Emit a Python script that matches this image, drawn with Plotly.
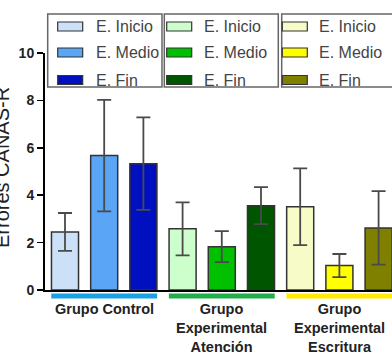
import plotly.graph_objects as go

# ---------------- data ----------------
groups = ["Grupo Control", "Grupo<br>Experimental<br>Atención", "Grupo<br>Experimental<br>Escritura"]
stages = ["E. Inicio", "E. Medio", "E. Fin"]

means_control = [2.45, 5.67, 5.33]
err_control = [0.80, 2.35, 1.95]
means_atencion = [2.58, 1.83, 3.56]
err_atencion = [1.12, 0.65, 0.78]
means_escritura = [3.51, 1.03, 2.62]
err_escritura = [1.62, 0.49, 1.55]

colors_control = ["#cce0f8", "#5aa5f5", "#0010c0"]
colors_atencion = ["#ccffcc", "#00c000", "#005500"]
colors_escritura = ["#f7fbc8", "#ffff00", "#808000"]
underline_colors = ["#1aa0e4", "#20ad4a", "#ffea00"]

y_ticks = [0, 2, 4, 6, 8, 10]
y_title = "Errores CANAS-R"

all_means = [means_control, means_atencion, means_escritura]
all_errs = [err_control, err_atencion, err_escritura]
all_colors = [colors_control, colors_atencion, colors_escritura]

# ---------------- geometry helpers ----------------
W, H = 392, 354
ML, MR, MT, MB = 45, 0, 53, 64
PW, PH = W - ML - MR, H - MT - MB


def xp(px):
    return (px - ML) / PW


def yp(py):
    return (H - MB - py) / PH


fig = go.Figure()

for g in range(3):
    xs = [3 * g + i for i in range(3)]
    fig.add_trace(go.Bar(
        x=xs, y=all_means[g],
        width=0.69,
        marker=dict(color=all_colors[g], line=dict(color="#333333", width=1.5)),
        error_y=dict(type="data", array=all_errs[g], visible=True,
                     color="#4a4a4a", thickness=1.8, width=7),
        showlegend=False,
        hoverinfo="skip",
    ))

shapes = []
annotations = []

# group underlines and labels
for g in range(3):
    shapes.append(dict(type="line", xref="x", yref="paper",
                       x0=3 * g - 0.35, x1=3 * g + 2.35,
                       y0=yp(296), y1=yp(296),
                       line=dict(color=underline_colors[g], width=5)))
    annotations.append(dict(text=groups[g], xref="x", yref="paper",
                            x=3 * g + 1, y=yp(299), xanchor="center", yanchor="top",
                            showarrow=False, align="center",
                            font=dict(family="Liberation Sans, Arial", size=14.5,
                                      color="#222222", weight="bold")))

# legends (three boxes)
box_left = [47.7, 164.3, 281.7]
box_right = [162.0, 278.3, 396.0]
sw_left = [57.7, 166.7, 282.3]
txt_left = [94.0, 202.0, 317.0]
row_y = [26.5, 52.5, 80.0]
for g in range(3):
    shapes.append(dict(type="rect", xref="paper", yref="paper",
                       x0=xp(box_left[g]), x1=xp(box_right[g]),
                       y0=yp(87), y1=yp(14),
                       line=dict(color="#666666", width=1.5),
                       fillcolor="rgba(255,255,255,0)"))
    for i in range(3):
        shapes.append(dict(type="rect", xref="paper", yref="paper",
                           x0=xp(sw_left[g]), x1=xp(sw_left[g] + 25),
                           y0=yp(row_y[i] + 4.5), y1=yp(row_y[i] - 4.5),
                           line=dict(color="#333333", width=1.2),
                           fillcolor=all_colors[g][i]))
        annotations.append(dict(text=stages[i], xref="paper", yref="paper",
                                x=xp(txt_left[g]), y=yp(row_y[i]),
                                xanchor="left", yanchor="middle", showarrow=False,
                                font=dict(family="Liberation Sans, Arial", size=16,
                                          color="#444444")))

# y-axis title (partially cut off on the left, as in the reference)
annotations.append(dict(text=y_title, xref="paper", yref="paper",
                        x=xp(2), y=yp(168), xanchor="center", yanchor="middle",
                        textangle=-90, showarrow=False,
                        font=dict(family="Liberation Sans, Arial", size=20,
                                  color="#222222")))

fig.update_layout(
    width=W, height=H,
    margin=dict(l=ML, r=MR, t=MT, b=MB),
    paper_bgcolor="white", plot_bgcolor="white",
    bargap=0,
    shapes=shapes,
    annotations=annotations,
    xaxis=dict(range=[-0.51, 8.342], showgrid=False, zeroline=False,
               showticklabels=False, ticks="", showline=True,
               linecolor="black", linewidth=2, fixedrange=True),
    yaxis=dict(range=[0, 10], tickvals=y_ticks, showgrid=False, zeroline=False,
               showline=True, linecolor="black", linewidth=2,
               ticks="outside", ticklen=6, tickwidth=1.5, tickcolor="black",
               tickfont=dict(family="Liberation Sans, Arial", size=14,
                             color="#222222", weight="bold"),
               fixedrange=True),
)

fig.write_html("out.html",
               config={"displayModeBar": False, "staticPlot": True},
               post_script="document.body.style.margin='0px';"
                           "document.body.style.overflow='hidden';")
